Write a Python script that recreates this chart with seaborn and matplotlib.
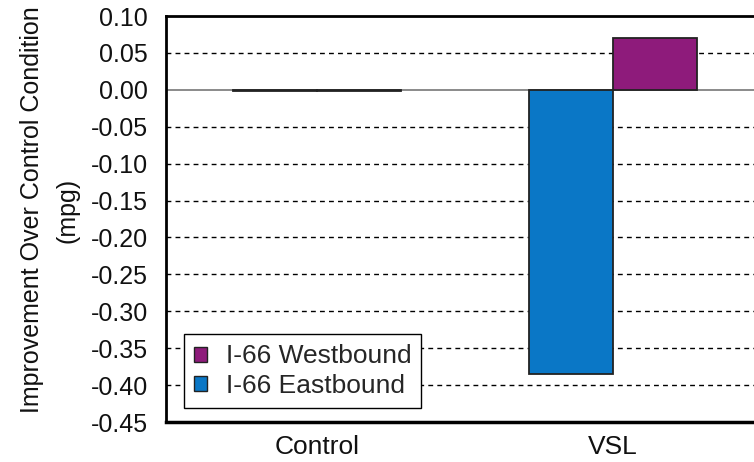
import matplotlib
matplotlib.use("Agg")
import matplotlib.pyplot as plt
import seaborn as sns
import pandas as pd
from matplotlib.patches import Patch

categories = ["Control", "VSL"]
eastbound = [-0.002, -0.385]
westbound = [-0.002, 0.07]
series_names = ["I-66 Eastbound", "I-66 Westbound"]
yticks = [0.10, 0.05, 0.00, -0.05, -0.10, -0.15, -0.20, -0.25, -0.30, -0.35, -0.40, -0.45]

colors = {"I-66 Eastbound": "#0A77C6", "I-66 Westbound": "#8E1B7B"}

df = pd.DataFrame({
    "cat": categories * 2,
    "series": [series_names[0]] * 2 + [series_names[1]] * 2,
    "val": eastbound + westbound,
})

sns.set_theme(style="white")
plt.rcParams["font.family"] = ["Liberation Sans", "DejaVu Sans"]

fig = plt.figure(figsize=(7.54, 4.62), dpi=100)
ax = fig.add_axes([166 / 754, 40 / 462, (764 - 166) / 754, (422 - 16) / 462])

for y in yticks:
    if abs(y) > 1e-9 and y < 0.099:
        ax.axhline(y, color="black", linestyle=(0, (3.5, 3)), linewidth=1.0, zorder=0)
ax.axhline(0, color="#777777", linewidth=1.2, zorder=0)

sns.barplot(data=df, x="cat", y="val", hue="series", hue_order=series_names,
            order=categories, palette=colors, saturation=1, width=0.57,
            edgecolor="#222222", linewidth=1.3, ax=ax, legend=False, zorder=2)

ax.set_ylim(-0.45, 0.10)
ax.set_xlim(-0.51, 1.51)
ax.set_yticks(yticks)
ax.set_yticklabels([f"{v:.2f}" for v in yticks], fontsize=18)
ax.tick_params(axis="x", labelsize=19, pad=9, length=0, colors="#111111")
ax.tick_params(axis="y", pad=13, length=0, colors="#111111")
ax.set_xlabel("")
ax.set_ylabel("Improvement Over Control Condition\n(mpg)", fontsize=18,
              linespacing=1.6, color="#111111")
ax.yaxis.set_label_coords(-0.145, 0.522)

for s in ax.spines.values():
    s.set_color("black")
    s.set_linewidth(2)
ax.spines["bottom"].set_linewidth(2.5)

handles = [Patch(facecolor=colors["I-66 Westbound"], edgecolor="#222222", label="I-66 Westbound"),
           Patch(facecolor=colors["I-66 Eastbound"], edgecolor="#222222", label="I-66 Eastbound")]
leg = ax.legend(handles=handles, loc="lower left", bbox_to_anchor=(0.03, 0.035),
                fontsize=19, frameon=True, fancybox=False, edgecolor="black",
                handlelength=0.5, handleheight=0.5, handletextpad=0.7,
                borderpad=0.38, labelspacing=0.2, borderaxespad=0.0, framealpha=1)
leg.get_frame().set_linewidth(1.0)

fig.savefig("out.png", dpi=100)
